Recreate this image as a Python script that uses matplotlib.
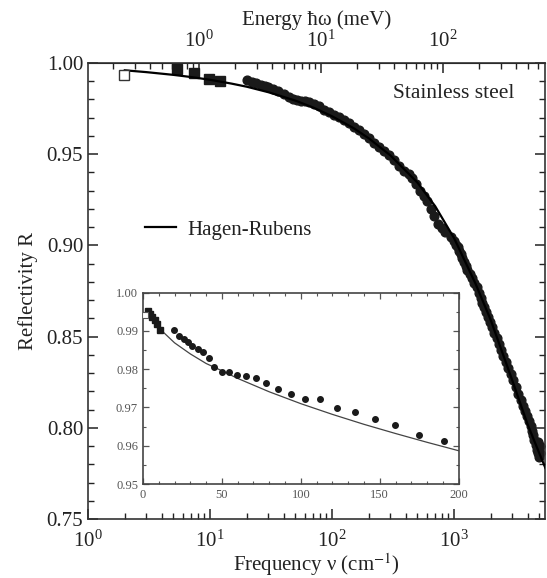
import numpy as np
import matplotlib
matplotlib.use("Agg")
import matplotlib.pyplot as plt
from matplotlib.ticker import MultipleLocator, LogLocator, NullFormatter, FormatStrFormatter, FixedLocator

plt.rcParams["font.family"] = ["Liberation Serif", "DejaVu Serif"]
plt.rcParams["mathtext.fontset"] = "stix"

# main panel: measured reflectivity (circles) vs frequency in cm^-1
freq_dots = [20, 22, 24, 26, 28, 30, 33, 36, 40, 44, 48, 52, 56, 60, 65, 71, 78, 86,
             95, 104, 114, 125, 137, 151, 166, 183, 200, 221, 243, 267, 293, 322, 354,
             389, 428, 455, 490, 530, 568, 600, 643, 690, 740, 790, 850, 938,
             1000, 1040, 1070, 1100, 1134, 1170, 1210, 1245, 1285, 1340, 1400, 1470,
             1549, 1600, 1650, 1700, 1762, 1830, 1900, 1980, 2060, 2140, 2230, 2320,
             2410, 2530, 2650, 2780, 2910, 3050, 3200, 3350, 3515, 3650, 3800, 3950,
             4120, 4250, 4350, 4450, 4530, 4650, 4750, 4860, 4975, 5100, 5050, 4900]
refl_dots = [0.9906, 0.9898, 0.9890, 0.9882, 0.9873, 0.9866, 0.9855, 0.9845, 0.9830,
             0.9815, 0.9800, 0.9795, 0.9792, 0.9789, 0.9784, 0.9776, 0.9762, 0.9745,
             0.9732, 0.9716, 0.9702, 0.9687, 0.9670, 0.9651, 0.9630, 0.9610, 0.9590,
             0.9562, 0.9540, 0.9520, 0.9497, 0.9468, 0.9438, 0.9410, 0.9390, 0.9372,
             0.9335, 0.9300, 0.9270, 0.9245, 0.9200, 0.9160, 0.9120, 0.9095, 0.9075,
             0.9048,
             0.9025, 0.9005, 0.8990, 0.8972, 0.8955, 0.8932, 0.8910, 0.8888, 0.8865,
             0.8842, 0.8820, 0.8795, 0.8770, 0.8740, 0.8710, 0.8685, 0.8660, 0.8635,
             0.8610, 0.8582, 0.8555, 0.8522, 0.8490, 0.8458, 0.8425, 0.8392, 0.8360,
             0.8328, 0.8295, 0.8260, 0.8225, 0.8188, 0.8150, 0.8120, 0.8090, 0.8065,
             0.8040, 0.8010, 0.7985, 0.7960, 0.7935, 0.7905, 0.7880, 0.7860, 0.7840,
             0.7860, 0.7900, 0.7925]

freq_sq = [5.4, 7.4, 9.8, 12.0]
refl_sq = [0.9965, 0.9944, 0.9912, 0.9900]
freq_open = [1.97]
refl_open = [0.9934]

# Hagen-Rubens curve
freq_hr = [2, 3, 5, 7, 10, 15, 20, 30, 50, 70, 100, 150, 200, 300, 500, 700, 1000,
           1500, 2000, 3000, 4000, 5000, 5600]
refl_hr = [0.9960, 0.9950, 0.9935, 0.9923, 0.9908, 0.9887, 0.9870, 0.9840, 0.9794,
           0.9756, 0.9708, 0.9643, 0.9587, 0.9494, 0.9345, 0.9215, 0.9040, 0.8790,
           0.8590, 0.8260, 0.8020, 0.7860, 0.7780]

# inset: linear frequency axis 0-200 cm^-1
ins_freq_dots = [19.6, 23.0, 26.0, 28.7, 31.3, 34.9, 38.2, 41.6, 45.2, 49.9, 54.5, 59.6,
                 65.3, 71.4, 78.1, 85.6, 94.0, 102.9, 112.4, 122.7, 134.2, 147.0, 159.7,
                 175.1, 190.9]
ins_refl_dots = [0.9902, 0.9888, 0.9878, 0.9870, 0.9860, 0.9853, 0.9845, 0.9830, 0.9807,
                 0.9794, 0.9792, 0.9786, 0.9781, 0.9778, 0.9763, 0.9749, 0.9734, 0.9721,
                 0.9721, 0.9699, 0.9687, 0.9670, 0.9654, 0.9629, 0.9613]
ins_freq_sq = [3.0, 4.5, 6.0, 7.5, 9.0, 11.0]
ins_refl_sq = [0.9953, 0.9945, 0.9937, 0.9928, 0.9918, 0.9903]
ins_freq_open = [1.5]
ins_refl_open = [0.9942]
ins_freq_hr = [5, 10, 20, 30, 40, 50, 60, 80, 100, 120, 140, 160, 180, 200]
ins_refl_hr = [0.9935, 0.9908, 0.9869, 0.9840, 0.9815, 0.9796, 0.9776, 0.9741, 0.9710,
               0.9682, 0.9656, 0.9632, 0.9609, 0.9587]

txt = "#222222"

fig = plt.figure(figsize=(5.47, 5.78), dpi=100)
ax = fig.add_axes([0.161, 0.102, 0.836, 0.789])

ax.plot(freq_hr, refl_hr, color="black", lw=1.6, label="Hagen-Rubens", zorder=3)
ax.plot(freq_dots, refl_dots, "o", color="#1a1a1a", ms=6.3, zorder=2)
ax.plot(freq_sq, refl_sq, "s", color="#1a1a1a", ms=7.5, zorder=2)
ax.plot(freq_open, refl_open, "s", mfc="white", mec="#333333", mew=1.0, ms=7.5, zorder=4)

ax.set_xscale("log")
ax.set_xlim(1, 5600)
ax.set_ylim(0.75, 1.00)
ax.yaxis.set_major_locator(MultipleLocator(0.05))
ax.yaxis.set_minor_locator(MultipleLocator(0.01))
ax.yaxis.set_major_formatter(FormatStrFormatter("%.2f"))
ax.xaxis.set_major_locator(LogLocator(base=10, numticks=10))
ax.xaxis.set_minor_locator(LogLocator(base=10, subs=np.arange(2, 10), numticks=20))
ax.xaxis.set_minor_formatter(NullFormatter())
ax.tick_params(axis="both", which="both", direction="in", top=False, right=True,
               labelsize=15, colors=txt)
ax.tick_params(which="major", length=7, width=1.1)
ax.tick_params(which="minor", length=4, width=1.0)
ax.tick_params(axis="x", which="major", pad=8)
for s in ax.spines.values():
    s.set_linewidth(1.2)
    s.set_color("#333333")

ax.set_xlabel("Frequency \u03bd (cm$^{-1}$)", fontsize=15, color=txt, labelpad=0)
ax.set_ylabel("Reflectivity R", fontsize=15, color=txt, labelpad=6)

# top axis in meV
top = ax.secondary_xaxis("top", functions=(lambda v: v * 0.12398, lambda e: e / 0.12398))
top.xaxis.set_major_locator(FixedLocator([1, 10, 100]))
top.xaxis.set_minor_locator(LogLocator(base=10, subs=np.arange(2, 10), numticks=20))
top.xaxis.set_minor_formatter(NullFormatter())
top.tick_params(axis="x", which="both", direction="in", labelsize=15, colors=txt)
top.tick_params(which="major", length=7, width=1.1, pad=8)
top.tick_params(which="minor", length=4, width=1.0)
top.set_xlabel("Energy \u0127\u03c9 (meV)", fontsize=15, color=txt, labelpad=4)

ax.text(0.932, 0.934, "Stainless steel", transform=ax.transAxes, ha="right",
        va="center", fontsize=15.5, color=txt)
ax.legend(loc="center left", bbox_to_anchor=(0.125, 0.634), frameon=False,
          fontsize=15, handlelength=1.5, handletextpad=0.5, borderpad=0,
          borderaxespad=0, labelcolor=txt)

# inset
ins = fig.add_axes([0.2614, 0.1626, 0.5771, 0.331])
ins.plot(ins_freq_hr, ins_refl_hr, color="#444444", lw=0.9, zorder=2)
ins.plot(ins_freq_dots, ins_refl_dots, "o", color="#1a1a1a", ms=4, zorder=3)
ins.plot(ins_freq_sq, ins_refl_sq, "s", color="#1a1a1a", ms=4.5, zorder=3)
ins.plot(ins_freq_open, ins_refl_open, "s", mfc="white", mec="#555555", mew=0.8, ms=4.5,
         zorder=4)
ins.set_xlim(0, 200)
ins.set_ylim(0.95, 1.00)
ins.xaxis.set_major_locator(MultipleLocator(50))
ins.xaxis.set_minor_locator(MultipleLocator(10))
ins.yaxis.set_major_locator(MultipleLocator(0.01))
ins.yaxis.set_minor_locator(MultipleLocator(0.005))
ins.yaxis.set_major_formatter(FormatStrFormatter("%.2f"))
ins.tick_params(axis="both", which="both", direction="in", top=True, right=True,
                labelsize=9, colors="#555555")
ins.tick_params(which="major", length=4, width=0.9)
ins.tick_params(which="minor", length=2.5, width=0.8)
for s in ins.spines.values():
    s.set_linewidth(1.2)
    s.set_color("#444444")

fig.savefig("out.png", dpi=100)
